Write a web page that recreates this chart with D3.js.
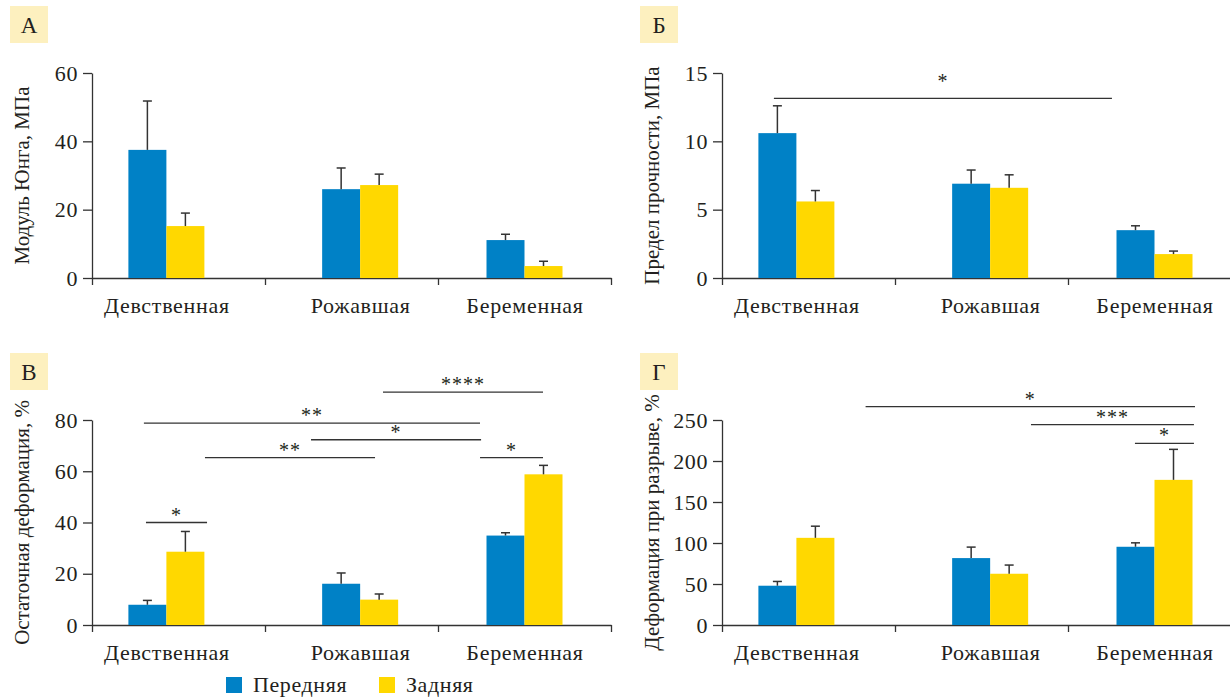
<!DOCTYPE html>
<html>
<head>
<meta charset="utf-8">
<script src="https://cdn.jsdelivr.net/npm/d3@7"></script>
<style>
  body { margin: 0; background: #fff; }
  text { font-family: "Liberation Serif", "DejaVu Serif", serif; fill: #231f20; }
</style>
</head>
<body>
<div id="chart"></div>
<script>
// categories and series
var categories = ["Девственная", "Рожавшая", "Беременная"];
var series = ["Передняя", "Задняя"];
var colors = ["#0081c6", "#ffd800"];

// A - Young's modulus, MPa
var youngFront = [37.5, 26.0, 11.1];
var youngFrontErr = [14.3, 6.2, 1.7];
var youngBack = [15.2, 27.2, 3.5];
var youngBackErr = [3.8, 3.2, 1.4];
var youngTicks = [0, 20, 40, 60];

// Б - ultimate strength, MPa
var strengthFront = [10.6, 6.9, 3.5];
var strengthFrontErr = [2.0, 1.0, 0.32];
var strengthBack = [5.6, 6.6, 1.75];
var strengthBackErr = [0.8, 0.95, 0.22];
var strengthTicks = [0, 5, 10, 15];

// В - residual strain, %
var residualFront = [7.9, 16.1, 34.9];
var residualFrontErr = [1.7, 4.2, 1.1];
var residualBack = [28.6, 9.9, 58.8];
var residualBackErr = [7.9, 2.2, 3.5];
var residualTicks = [0, 20, 40, 60, 80];

// Г - strain at break, %
var ruptureFront = [47.9, 81.6, 95.4];
var ruptureFrontErr = [5.2, 13.4, 4.8];
var ruptureBack = [106.3, 62.5, 177];
var ruptureBackErr = [14.2, 10.6, 37.2];
var ruptureTicks = [0, 50, 100, 150, 200, 250];

// group anchors along the x axis, in category units (the figure is hand-placed)
var groupAt = [0.43, 1.55, 2.5];

// significance brackets: ends in category units (0..3), level in value units
var strengthSig = [{a: 0.30, b: 2.254, y: 13.15, s: "*", dy: 9}];
var residualSig = [
  {a: 0.312, b: 0.665, y: 40.0, s: "*"},
  {a: 0.30, b: 2.243, y: 78.8, s: "**"},
  {a: 0.653, b: 1.636, y: 65.3, s: "**"},
  {a: 1.266, b: 2.249, y: 72.3, s: "*"},
  {a: 1.682, b: 2.607, y: 90.9, s: "****"},
  {a: 2.243, b: 2.607, y: 65.3, s: "*"}
];
var ruptureSig = [
  {a: 0.83, b: 2.734, y: 266.2, s: "*"},
  {a: 1.786, b: 2.728, y: 244.3, s: "***"},
  {a: 2.387, b: 2.728, y: 221.6, s: "*"}
];

var svg = d3.select("#chart").append("svg").attr("width", 1230).attr("height", 698);
var ink = "#333";

function panel(opt) {
  var w = 519, h = 205;
  var g = svg.append("g").attr("transform", "translate(" + opt.x + "," + opt.y + ")");
  var y = d3.scaleLinear().domain([0, d3.max(opt.ticks)]).range([h, 0]);
  var xu = d3.scaleLinear().domain([0, 3]).range([0, w]);
  var x0 = d3.scaleOrdinal().domain(categories).range(groupAt.map(xu));
  var x1 = d3.scaleBand().domain(series).range([-38, 38]);

  // panel letter
  svg.append("rect").attr("x", opt.x - 82).attr("y", opt.y - 67).attr("width", 38).attr("height", 37).attr("fill", "#fdf0bf");
  svg.append("text").attr("x", opt.x - 63).attr("y", opt.y - 40).attr("text-anchor", "middle")
    .style("font-size", "23px").text(opt.letter);

  // axes
  var ya = g.append("g").call(d3.axisLeft(y).tickValues(opt.ticks).tickSize(9).tickSizeOuter(0).tickPadding(5));
  ya.selectAll("text").style("font-size", "22px").style("letter-spacing", "0.6px");
  g.append("g").attr("transform", "translate(0," + h + ")")
    .call(d3.axisBottom(xu).tickValues([0, 1, 2, 3]).tickFormat("").tickSize(7).tickSizeOuter(0));
  var xl = g.append("g").attr("transform", "translate(0," + h + ")")
    .call(d3.axisBottom(x0).tickSize(0).tickPadding(19));
  xl.select(".domain").remove();
  xl.selectAll("text").style("font-size", "22px").style("letter-spacing", "0.7px");
  g.selectAll(".domain, .tick line").attr("stroke", ink).attr("stroke-width", 1.3);

  g.append("text").attr("transform", "translate(" + (-70) + "," + (h / 2) + ") rotate(-90)")
    .attr("dy", "0.35em").attr("text-anchor", "middle")
    .style("font-size", "21px").text(opt.title);

  // bars
  var rows = [];
  categories.forEach(function (c, i) {
    rows.push({c: c, s: series[0], v: opt.front[i], e: opt.frontErr[i]});
    rows.push({c: c, s: series[1], v: opt.back[i], e: opt.backErr[i]});
  });
  var bx = function (d) { return x0(d.c) + x1(d.s); };
  var cx = function (d) { return bx(d) + x1.bandwidth() / 2; };
  g.selectAll(".bar").data(rows).enter().append("rect")
    .attr("x", bx).attr("width", x1.bandwidth())
    .attr("y", function (d) { return y(d.v); })
    .attr("height", function (d) { return h - y(d.v); })
    .attr("fill", function (d) { return colors[series.indexOf(d.s)]; });

  var eb = g.selectAll(".err").data(rows).enter().append("g").attr("stroke", ink).attr("stroke-width", 1.5);
  eb.append("line")
    .attr("x1", cx).attr("x2", cx)
    .attr("y1", function (d) { return y(d.v); })
    .attr("y2", function (d) { return y(d.v + d.e); });
  eb.append("line")
    .attr("x1", function (d) { return cx(d) - 4.5; })
    .attr("x2", function (d) { return cx(d) + 4.5; })
    .attr("y1", function (d) { return y(d.v + d.e); })
    .attr("y2", function (d) { return y(d.v + d.e); });

  // significance
  var sg = g.selectAll(".sig").data(opt.sig || []).enter().append("g");
  sg.append("line")
    .attr("x1", function (d) { return xu(d.a); }).attr("x2", function (d) { return xu(d.b); })
    .attr("y1", function (d) { return y(d.y); }).attr("y2", function (d) { return y(d.y); })
    .attr("stroke", ink).attr("stroke-width", 1.3);
  sg.append("text")
    .attr("x", function (d) { return (xu(d.a) + xu(d.b)) / 2; })
    .attr("y", function (d) { return y(d.y) - 1 - (d.dy || 0); })
    .attr("text-anchor", "middle").style("font-size", "20px").style("letter-spacing", "1px")
    .text(function (d) { return d.s; });
}

panel({letter: "А", x: 92, y: 73, ticks: youngTicks, title: "Модуль Юнга, МПа",
  front: youngFront, frontErr: youngFrontErr, back: youngBack, backErr: youngBackErr});
panel({letter: "Б", x: 722, y: 73, ticks: strengthTicks, title: "Предел прочности, МПа",
  front: strengthFront, frontErr: strengthFrontErr, back: strengthBack, backErr: strengthBackErr, sig: strengthSig});
panel({letter: "В", x: 92, y: 420, ticks: residualTicks, title: "Остаточная деформация, %",
  front: residualFront, frontErr: residualFrontErr, back: residualBack, backErr: residualBackErr, sig: residualSig});
panel({letter: "Г", x: 722, y: 420, ticks: ruptureTicks, title: "Деформация при разрыве, %",
  front: ruptureFront, frontErr: ruptureFrontErr, back: ruptureBack, backErr: ruptureBackErr, sig: ruptureSig});

// legend
var lg = svg.append("g").attr("transform", "translate(226,677)");
var li = lg.selectAll("g").data(series).enter().append("g")
  .attr("transform", function (d, i) { return "translate(" + (i * 153) + ",0)"; });
li.append("rect").attr("width", 16).attr("height", 16).attr("fill", function (d, i) { return colors[i]; });
li.append("text").attr("x", 27).attr("y", 15).style("font-size", "22px").style("letter-spacing", "0.6px")
  .text(function (d) { return d; });
</script>
</body>
</html>
